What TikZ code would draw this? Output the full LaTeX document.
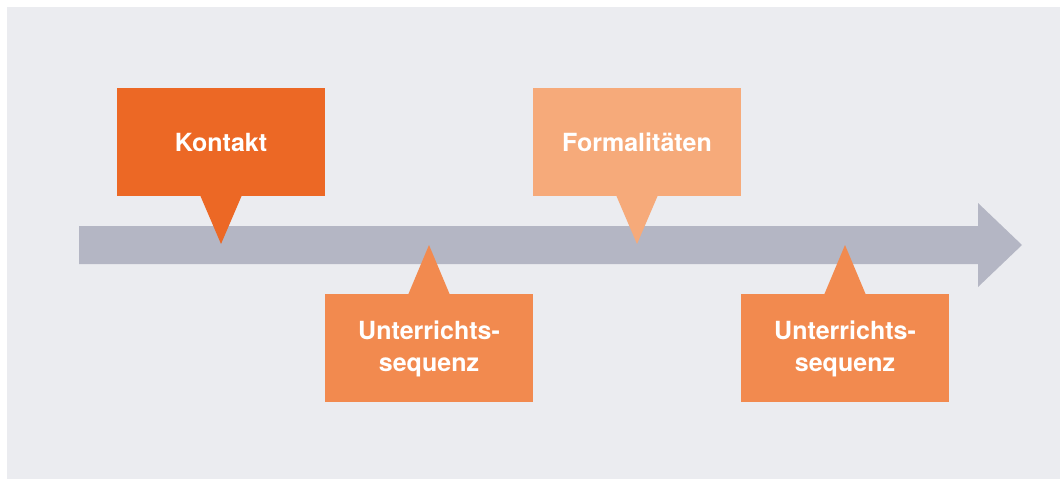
\documentclass[tikz,border=0pt]{standalone}
\usepackage{fontspec}
\setmainfont{TeX Gyre Heros}
\definecolor{bg}{HTML}{EBECF0}
\definecolor{shaft}{HTML}{B4B6C4}
\definecolor{kontakt}{HTML}{EC6825}
\definecolor{formal}{HTML}{F6AA7A}
\definecolor{unterr}{HTML}{F28A4F}
\tikzset{
  lbl/.style={text=white, font=\fontsize{25}{32}\selectfont\bfseries, align=center, inner sep=0pt},
}
\begin{document}
\begin{tikzpicture}[x=1pt,y=-1pt]
\useasboundingbox (0,0) rectangle (1061,479);
\fill[white] (0,0) rectangle (1061,479);
\fill[bg] (7,7) rectangle (1060,479);
% arrow
\fill[shaft] (79,226) -- (978,226) -- (978,203) -- (1022,245) -- (978,287) -- (978,264) -- (79,264) -- cycle;
% Kontakt
\fill[kontakt] (117,88) rectangle (325,196);
\fill[kontakt] (200,195) -- (242,195) -- (221,244) -- cycle;
\node[lbl] (k) at (221,142) {Kontakt};
% Formalitaeten
\fill[formal] (533,88) rectangle (741,196);
\fill[formal] (616,195) -- (658,195) -- (637,244) -- cycle;
\node[lbl] (f) at (637,142) {Formalitäten};
% Unterrichtssequenz 1
\fill[unterr] (325,294) rectangle (533,402);
\fill[unterr] (408,295) -- (450,295) -- (429,245) -- cycle;
\node[lbl] (u1) at (429,349) {Unterrichts-\\sequenz};
% Unterrichtssequenz 2
\fill[unterr] (741,294) rectangle (949,402);
\fill[unterr] (824,295) -- (866,295) -- (845,245) -- cycle;
\node[lbl] (u2) at (845,349) {Unterrichts-\\sequenz};
\end{tikzpicture}
\end{document}
